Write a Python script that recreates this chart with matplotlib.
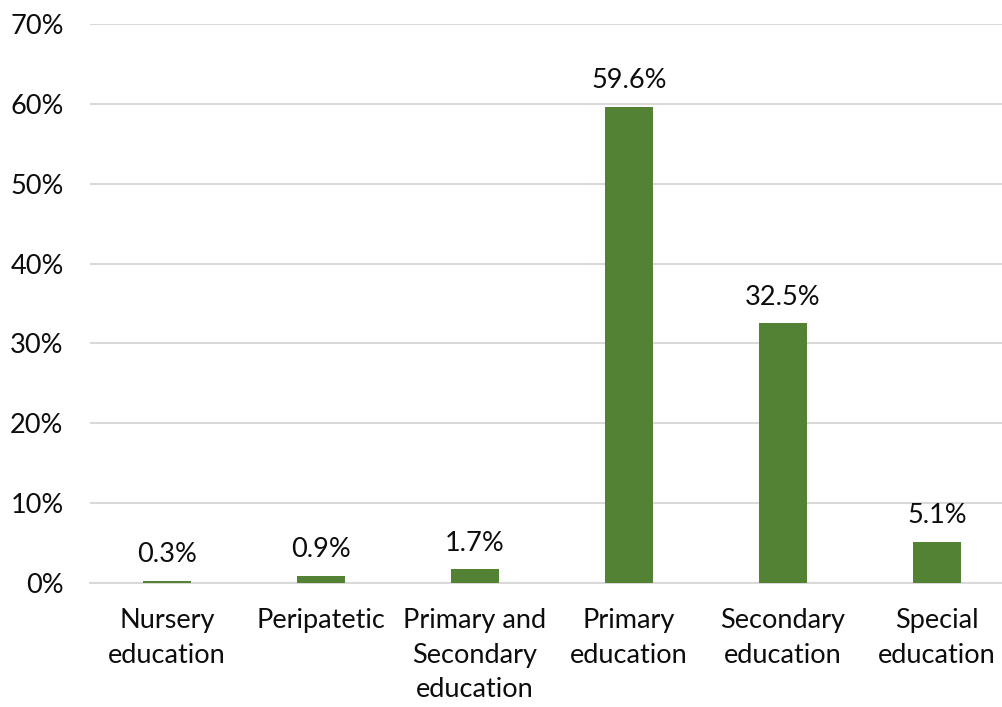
import matplotlib.pyplot as plt
from matplotlib.ticker import FuncFormatter, MultipleLocator

categories = ['Nursery\neducation', 'Peripatetic', 'Primary and\nSecondary\neducation',
              'Primary\neducation', 'Secondary\neducation', 'Special\neducation']
shares = [0.3, 0.9, 1.7, 59.6, 32.5, 5.1]

plt.rcParams['font.family'] = ['Lato', 'DejaVu Sans']
txt = '#0d0d0d'

fig = plt.figure(figsize=(10.03, 7.07), dpi=100)
ax = fig.add_axes([90 / 1003, 124 / 707, 924 / 1003, 559 / 707])

x = range(len(categories))
bars = ax.bar(x, shares, width=0.31, color='#548235', zorder=3)

for rect, v in zip(bars, shares):
    ax.annotate(f'{v:.1f}%', (rect.get_x() + rect.get_width() / 2, v),
                xytext=(0, 10), textcoords='offset points',
                ha='center', va='bottom', fontsize=19.5, color=txt)

ax.set_xlim(-0.5, len(categories) - 0.5)
ax.set_ylim(0, 70)
ax.yaxis.set_major_locator(MultipleLocator(10))
ax.yaxis.set_major_formatter(FuncFormatter(lambda v, p: f'{v:.0f}%'))
ax.set_xticks(list(x))
ax.set_xticklabels(categories, fontsize=19.5, color=txt, linespacing=1.48)
ax.tick_params(axis='y', labelsize=19.5, labelcolor=txt, length=0, pad=19)
ax.tick_params(axis='x', length=0, pad=18)

ax.grid(axis='y', color='#d9d9d9', linewidth=1.5, zorder=0)
for side in ['top', 'right', 'left']:
    ax.spines[side].set_visible(False)
ax.spines['bottom'].set_color('#d9d9d9')
ax.spines['bottom'].set_linewidth(1.5)

plt.savefig('out.png', dpi=100)
